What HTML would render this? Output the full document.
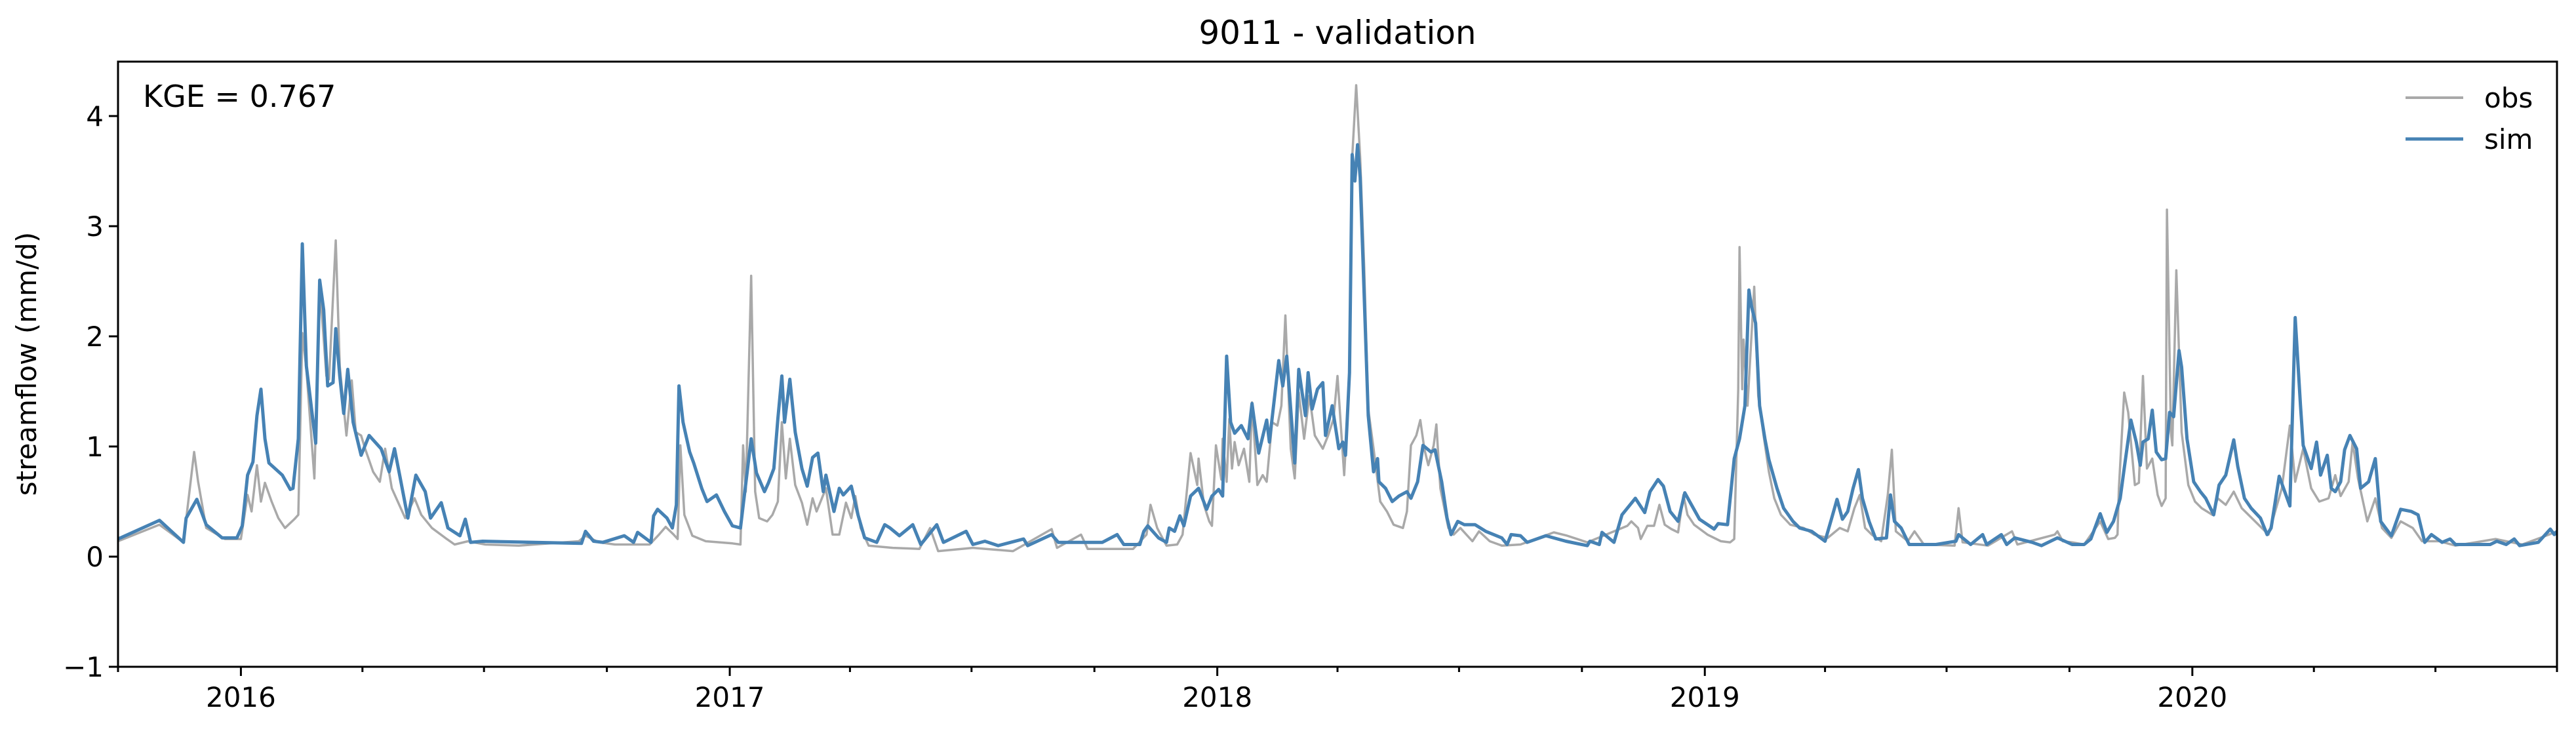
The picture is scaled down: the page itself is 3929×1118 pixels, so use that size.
<!DOCTYPE html>
<html>
<head>
<meta charset="utf-8">
<style>
html,body{margin:0;padding:0;background:#fff;}
svg{display:block;font-family:"DejaVu Sans","Liberation Sans",sans-serif;}
</style>
</head>
<body>
<svg id="chart" width="3929" height="1118" viewBox="0 0 3929 1118" xmlns="http://www.w3.org/2000/svg">
  <rect x="0" y="0" width="3929" height="1118" fill="#fff"/>
  <defs><clipPath id="plotclip"><rect x="180" y="94" width="3720" height="923"/></clipPath></defs>
  <text x="2040" y="67" font-size="50" text-anchor="middle">9011 - validation</text>
  <text x="0" y="0" font-size="42" text-anchor="middle" transform="translate(55,555) rotate(-90)">streamflow (mm/d)</text>
  <g id="series" clip-path="url(#plotclip)"></g>
  <g id="axes"></g>
  <rect x="180" y="94" width="3720" height="923" fill="none" stroke="#000" stroke-width="3"/>
  <text x="218" y="163" font-size="46">KGE = 0.767</text>
  <g>
    <line x1="3669" y1="149" x2="3757" y2="149" stroke="#a9a9a9" stroke-width="4"/>
    <text x="3789" y="164" font-size="42">obs</text>
    <line x1="3669" y1="212" x2="3757" y2="212" stroke="#4682b4" stroke-width="5"/>
    <text x="3789" y="227" font-size="42">sim</text>
  </g>
</svg>
<script>
// days since 2015-10-01
const obsDays = [0,31,49,57,60,66,80,92,97,100,104,107,110,115,120,125,132,135,138,141,147,151,156,158,163,166,171,175,178,182,185,191,196,200,205,215,222,227,235,245,252,262,275,300,345,350,360,372,
398,405,410,416,419,421,424,430,440,460,466,468,470,474,477,480,486,490,494,497,500,503,507,512,516,520,523,526,530,535,540,545,549,552,556,562,580,600,608,614,640,670,699,703,721,726,
760,770,773,778,785,793,797,803,808,809,813,817,819,822,826,827,830,832,834,836,839,843,847,849,853,857,860,864,868,871,874,878,881,884,888,892,896,902,906,910,913,918,922,924,927,930,933,936,940,945,950,955,962,965,968,972,975,978,981,985,987,990,996,1000,1005,1014,1019,1027,1036,1050,1075,1085,
1100,1130,1133,1138,1140,1145,1150,1154,1158,1163,1168,1172,1175,1180,1190,1200,1207,1210,1213,1214,1216,1217,1220,1225,1228,1232,1236,1240,1245,1252,1262,1270,1280,1289,1295,1300,1304,1308,1313,1320,1325,1328,1331,1340,1345,1352,1375,1378,1381,1400,1418,1422,1450,1452,1456,
1463,1472,1484,1490,1495,1497,1498,1502,1505,1510,1513,1516,1519,1523,1527,1530,1533,1534,1537,1538,1541,1545,1550,1555,1560,1568,1572,1578,1584,1590,1600,1610,1620,1626,1630,1636,1642,1648,1655,1660,1664,1670,1673,1677,1684,1690,1695,1702,1709,1718,1725,1738,1750,1780,1800,1820,1826];
const obsValues = [.14,.29,.13,.95,.68,.26,.16,.16,.56,.41,.83,.5,.67,.5,.35,.26,.34,.38,2.03,1.7,.71,2.48,1.64,1.61,2.87,1.73,1.1,1.6,1.13,1.1,.98,.77,.68,.98,.62,.35,.53,.38,.26,.17,.11,.14,.11,.1,.14,.19,.13,.11,
.11,.2,.27,.2,.16,1.01,.38,.19,.14,.12,.11,1.01,.59,2.55,.59,.35,.32,.38,.5,1.22,.71,1.07,.65,.49,.29,.53,.41,.5,.62,.2,.2,.49,.35,.55,.26,.1,.08,.07,.26,.05,.08,.05,.25,.08,.2,.07,
.07,.2,.47,.26,.1,.11,.2,.94,.65,.89,.47,.32,.28,1.01,.7,1.07,.68,1.25,.8,1.04,.83,.98,.68,1.4,.65,.74,.68,1.22,1.19,1.37,2.19,.98,.71,1.49,1.07,1.46,1.1,.98,1.1,1.25,1.64,.74,1.64,3.62,4.28,3.62,2.63,1.34,.98,.5,.41,.29,.26,.41,1.01,1.1,1.24,.98,.83,1.01,1.2,.62,.26,.2,.26,.14,.23,.14,.1,.11,.22,.19,
.13,.28,.32,.26,.16,.28,.28,.47,.29,.25,.22,.56,.38,.29,.2,.14,.13,.16,1.52,2.81,1.52,1.97,1.37,2.45,1.46,1.1,.77,.53,.38,.29,.26,.2,.17,.26,.23,.44,.56,.26,.2,.14,.56,.97,.23,.14,.23,.11,.1,.44,.13,.1,.23,.11,.2,.23,.14,
.13,.11,.32,.16,.17,.2,.62,1.49,1.31,.65,.67,1.64,.8,.89,.56,.46,.53,3.15,1.13,1.01,2.6,1.13,.65,.5,.44,.38,.53,.47,.59,.44,.32,.2,.62,1.19,.68,.98,.62,.5,.53,.74,.55,.68,1.04,.71,.32,.53,.26,.17,.32,.26,.14,.14,.1,.16,.11,.2,.23];
const simDays = [0,31,49,51,59,66,78,89,93,97,101,104,107,110,113,123,129,131,135,138,141,148,151,154,157,161,163,166,169,172,176,182,188,197,203,207,211,217,223,230,234,242,247,256,260,264,273,347,350,356,
363,379,386,389,399,401,404,411,415,418,420,423,428,431,437,441,448,454,460,466,468,474,478,484,487,491,494,497,499,503,507,512,516,520,524,528,530,536,540,543,549,554,559,568,574,578,585,595,601,613,618,635,640,649,659,678,681,699,704,723,
737,748,753,765,768,771,779,785,787,791,795,798,803,809,815,819,824,827,830,833,836,841,846,849,854,860,862,869,872,875,881,884,889,891,894,898,902,904,909,914,917,919,922,924,926,928,930,932,936,940,943,944,949,954,959,965,968,973,977,983,986,991,995,998,1003,1008,1016,1024,1036,1040,1043,1050,1055,1069,1084,
1100,1102,1109,1111,1120,1126,1130,1136,1143,1147,1153,1157,1162,1168,1173,1178,1184,1195,1198,1205,1210,1214,1218,1221,1223,1226,1229,1233,1236,1242,1247,1254,1259,1268,1278,1283,1287,1291,1295,1299,1303,1306,1311,1316,1324,1327,1330,1335,1341,1352,1361,1376,1378,1387,1396,1399,1410,1414,1420,1433,1440,1452,
1463,1472,1477,1484,1489,1494,1499,1502,1507,1511,1514,1516,1520,1523,1526,1530,1533,1536,1539,1543,1545,1549,1554,1559,1563,1569,1573,1578,1584,1587,1592,1597,1604,1609,1612,1618,1626,1630,1634,1636,1642,1646,1649,1654,1657,1660,1664,1667,1671,1676,1679,1685,1690,1694,1702,1709,1717,1722,1727,1732,1740,1746,1750,1764,1776,1781,1788,1794,1798,1812,1821,1824,1826];
const simValues = [.16,.33,.13,.35,.52,.29,.17,.17,.28,.74,.86,1.28,1.52,1.07,.85,.74,.61,.62,1.07,2.84,1.73,1.03,2.51,2.24,1.55,1.58,2.07,1.64,1.3,1.7,1.22,.92,1.1,.98,.77,.98,.73,.35,.74,.59,.35,.49,.26,.19,.34,.13,.14,.12,.23,.14,
.13,.19,.13,.22,.13,.37,.43,.35,.26,.47,1.55,1.22,.95,.85,.62,.5,.56,.41,.28,.26,.46,1.07,.76,.59,.67,.8,1.25,1.64,1.22,1.61,1.13,.8,.64,.9,.94,.59,.74,.41,.62,.56,.64,.38,.17,.13,.29,.26,.19,.29,.11,.29,.13,.23,.11,.14,.1,.16,.1,.2,.13,.13,
.13,.2,.11,.11,.23,.28,.17,.13,.26,.23,.37,.28,.55,.62,.43,.55,.61,.55,1.82,1.22,1.12,1.19,1.07,1.39,.94,1.24,1.04,1.78,1.55,1.82,.85,1.7,1.28,1.67,1.34,1.52,1.58,1.1,1.37,.98,1.04,.92,1.67,3.65,3.41,3.74,3.44,2.72,1.28,.77,.89,.68,.62,.5,.55,.59,.53,.68,1.01,.95,.97,.68,.35,.2,.32,.29,.29,.23,.17,.11,.2,.19,.13,.19,.14,
.1,.14,.11,.22,.13,.38,.44,.53,.4,.59,.7,.64,.41,.32,.58,.47,.34,.25,.3,.29,.89,1.07,1.37,2.42,2.27,2.12,1.37,1.07,.88,.62,.44,.32,.26,.23,.14,.35,.52,.34,.41,.62,.79,.53,.32,.16,.17,.56,.32,.26,.11,.11,.11,.14,.2,.11,.2,.11,.2,.11,.17,.13,.1,.17,
.11,.11,.16,.39,.22,.32,.53,.8,1.24,1.04,.83,1.04,1.07,1.33,.95,.88,.89,1.31,1.27,1.87,1.72,1.07,.68,.59,.53,.38,.65,.74,1.06,.82,.53,.44,.35,.2,.26,.73,.46,2.17,1.37,1.01,.8,1.04,.74,.92,.62,.59,.68,.97,1.1,.98,.62,.68,.89,.32,.19,.43,.41,.38,.13,.2,.13,.16,.11,.11,.11,.14,.11,.16,.1,.13,.25,.2,.23];
const yTicks = [-1,0,1,2,3,4];
const yTickLabels = ["\u22121","0","1","2","3","4"];
const yearTickDays = [92,458,823,1188,1553];
const yearTickLabels = ["2016","2017","2018","2019","2020"];
const quarterTickDays = [0,183,274,366,548,639,731,913,1004,1096,1278,1369,1461,1644,1735,1826];

const NS = "http://www.w3.org/2000/svg";
const X0 = 180, X1 = 3900, Y0 = 1017, Y1 = 94;
const DMIN = 0, DMAX = 1826, VMIN = -1, VMAX = 4.494;
function xs(d){ return X0 + (d - DMIN) / (DMAX - DMIN) * (X1 - X0); }
function ys(v){ return Y0 - (v - VMIN) / (VMAX - VMIN) * (Y0 - Y1); }
function pathFrom(days, vals){
  let s = "";
  for (let i = 0; i < days.length; i++) s += (i ? "L" : "M") + xs(days[i]).toFixed(1) + "," + ys(vals[i]).toFixed(1);
  return s;
}
const series = document.getElementById("series");
const obsPath = document.createElementNS(NS, "path");
obsPath.setAttribute("d", pathFrom(obsDays, obsValues));
obsPath.setAttribute("fill", "none");
obsPath.setAttribute("stroke", "#a9a9a9");
obsPath.setAttribute("stroke-width", "3.5");
obsPath.setAttribute("stroke-linejoin", "round");


series.appendChild(obsPath);
const simPath = document.createElementNS(NS, "path");
simPath.setAttribute("d", pathFrom(simDays, simValues));
simPath.setAttribute("fill", "none");
simPath.setAttribute("stroke", "#4682b4");
simPath.setAttribute("stroke-width", "5");
simPath.setAttribute("stroke-linejoin", "round");


series.appendChild(simPath);

const axes = document.getElementById("axes");
function mkLine(x1,y1,x2,y2){
  const l = document.createElementNS(NS, "line");
  l.setAttribute("x1", x1); l.setAttribute("y1", y1);
  l.setAttribute("x2", x2); l.setAttribute("y2", y2);
  l.setAttribute("stroke", "#000"); l.setAttribute("stroke-width", "3");
  return l;
}
function mkText(x,y,txt,anchor){
  const t = document.createElementNS(NS, "text");
  t.setAttribute("x", x); t.setAttribute("y", y);
  t.setAttribute("font-size", "42");
  t.setAttribute("text-anchor", anchor);
  t.textContent = txt;
  return t;
}
for (let i = 0; i < yTicks.length; i++){
  const y = ys(yTicks[i]);
  const tk = mkLine(X0 - 14, y, X0, y);
  
  
  axes.appendChild(tk);
  const lb = mkText(X0 - 22, y + 15, yTickLabels[i], "end");
  
  
  axes.appendChild(lb);
}
for (let i = 0; i < quarterTickDays.length; i++){
  const x = xs(quarterTickDays[i]);
  const tk = mkLine(x, Y0, x, Y0 + 8);
  
  
  axes.appendChild(tk);
}
for (let i = 0; i < yearTickDays.length; i++){
  const x = xs(yearTickDays[i]);
  const tk = mkLine(x, Y0, x, Y0 + 14);
  
  
  axes.appendChild(tk);
  const lb = mkText(x, 1078, yearTickLabels[i], "middle");
  
  
  axes.appendChild(lb);
}
</script>
</body>
</html>
